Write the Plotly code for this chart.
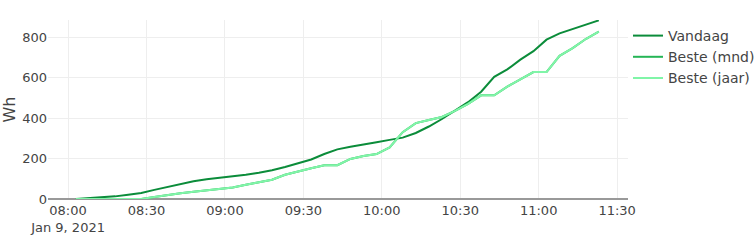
import plotly.graph_objects as go
import pandas as pd

times = pd.date_range("2021-01-09 08:03", periods=41, freq="5min")

vandaag = [0, 4, 8, 13, 21, 30, 45, 60, 75, 88, 98, 105, 112, 120, 130, 142, 158, 175, 195, 222,
           245, 258, 268, 280, 292, 303, 326, 358, 395, 437, 478, 530, 603, 640, 688, 730, 787, 818,
           840, 860, 882]
beste_jaar = [0, 0, 0, 0, 0, 0, 10, 20, 28, 36, 43, 50, 57, 70, 82, 95, 120, 137, 152, 167,
              167, 198, 212, 222, 255, 330, 375, 390, 405, 435, 470, 512, 512, 555, 590, 627, 627,
              707, 745, 790, 826]
beste_mnd = list(beste_jaar)

names = ["Vandaag", "Beste (mnd)", "Beste (jaar)"]
colors = ["#0b8c3a", "#25b556", "#80f5a8"]
series = [vandaag, beste_mnd, beste_jaar]

fig = go.Figure()
for n, c, s in zip(names, colors, series):
    fig.add_trace(go.Scatter(x=times, y=s, mode="lines", name=n,
                             line=dict(color=c, width=2)))

fig.update_layout(
    width=754, height=240,
    margin=dict(l=48, r=126, t=20, b=41, autoexpand=False),
    paper_bgcolor="white", plot_bgcolor="white",
    font=dict(family="DejaVu Sans", size=13, color="#444"),
    legend=dict(font=dict(size=14), x=1.0, xanchor="left", y=1, tracegroupgap=0),
    xaxis=dict(
        range=["2021-01-09 07:52:20", "2021-01-09 11:34:10"],
        tickformat="%H:%M\n%b %-d, %Y",
        dtick=30 * 60 * 1000,
        tick0="2021-01-09 08:00",
        showgrid=True, gridcolor="#eeeeee", zeroline=False,
        showline=False, automargin=False, ticklabelstandoff=2,
    ),
    yaxis=dict(
        title=dict(text="Wh", standoff=6),
        range=[0, 884],
        tickvals=[0, 200, 400, 600, 800],
        showgrid=True, gridcolor="#eeeeee", automargin=False,
        zeroline=True, zerolinecolor="#999999", zerolinewidth=2,
    ),
)

fig.write_html("out.html")
